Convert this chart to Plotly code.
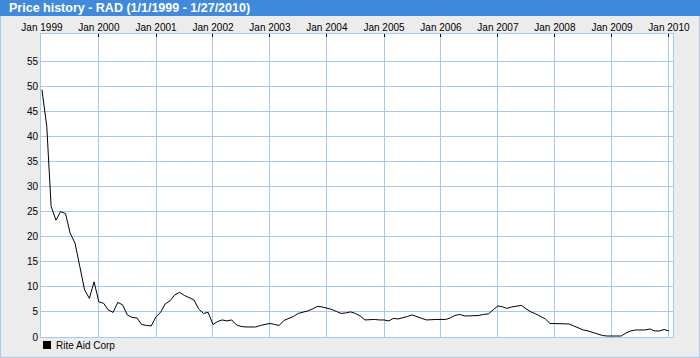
import pandas as pd
import plotly.graph_objects as go

# ---- data (monthly closing prices) ----
series_name = "Rite Aid Corp"
title_text = "Price history - RAD (1/1/1999 - 1/27/2010)"
start_month = "1999-01-01"
prices_1999 = [49.3, 42.0, 26.0, 23.3, 25.0, 24.6, 20.7, 18.7, 14.0, 9.4, 7.7, 11.0]
prices_2000 = [7.0, 6.7, 5.4, 4.9, 6.9, 6.4, 4.4, 3.9, 3.8, 2.5, 2.3, 2.2]
prices_2001 = [4.0, 5.0, 6.6, 7.2, 8.4, 8.9, 8.3, 7.9, 7.4, 5.6, 4.7, 4.9]
prices_2002 = [2.5, 3.1, 3.4, 3.2, 3.4, 2.4, 2.1, 2.0, 2.0, 2.0, 2.3, 2.5]
prices_2003 = [2.7, 2.5, 2.3, 3.3, 3.7, 4.1, 4.7, 4.9, 5.2, 5.6, 6.1, 6.0]
prices_2004 = [5.8, 5.5, 5.1, 4.7, 4.8, 5.0, 4.7, 4.2, 3.4, 3.5, 3.5, 3.4]
prices_2005 = [3.4, 3.2, 3.7, 3.6, 3.8, 4.1, 4.4, 4.0, 3.7, 3.4, 3.5, 3.5]
prices_2006 = [3.5, 3.5, 3.8, 4.3, 4.5, 4.2, 4.2, 4.2, 4.3, 4.5, 4.6, 5.4]
prices_2007 = [6.2, 6.0, 5.7, 6.0, 6.1, 6.3, 5.6, 5.0, 4.6, 4.1, 3.6, 2.7]
prices_2008 = [2.7, 2.6, 2.6, 2.6, 2.2, 1.8, 1.4, 1.2, 0.9, 0.5, 0.3, 0.2]
prices_2009 = [0.2, 0.2, 0.2, 0.8, 1.2, 1.4, 1.4, 1.4, 1.6, 1.2, 1.2, 1.5]
prices_2010 = [1.2]
y_tick_values = [0, 5, 10, 15, 20, 25, 30, 35, 40, 45, 50, 55]

prices = (prices_1999 + prices_2000 + prices_2001 + prices_2002 + prices_2003 +
          prices_2004 + prices_2005 + prices_2006 + prices_2007 + prices_2008 +
          prices_2009 + prices_2010)
dates = pd.date_range(start_month, periods=len(prices), freq="MS")

# ---- style ----
W, H = 700, 358
L, R, T, B = 41, 27, 34, 21
grid = "#A9C8F0"
bar_blue = "#4189DA"
bg = "#ECECEC"
font_family = "Liberation Sans, Arial, sans-serif"

pw, ph = W - L - R, H - T - B


def px_x(p):
    return (p - L) / pw


def px_y(p):
    return (H - B - p) / ph


fig = go.Figure()
fig.add_trace(go.Scatter(
    x=dates, y=prices, mode="lines",
    line=dict(color="black", width=1),
    name=series_name, showlegend=False,
))

fig.update_layout(
    width=W, height=H,
    margin=dict(l=L, r=R, t=T, b=B, pad=0),
    paper_bgcolor=bg, plot_bgcolor="white",
    font=dict(family=font_family, size=9.5, color="black"),
    showlegend=False,
    xaxis=dict(
        type="date", side="top",
        range=["1998-12-26", "2010-01-27"],
        dtick="M12", tick0="1999-01-01", tickformat="%b %Y",
        ticks="inside", ticklen=3, tickwidth=1, tickcolor="black",
        ticklabelstandoff=-2,
        showgrid=True, gridcolor=grid, gridwidth=1,
        showline=True, linecolor=grid, linewidth=1, mirror=True,
        zeroline=False, fixedrange=True, automargin=False,
        tickfont=dict(size=10),
    ),
    yaxis=dict(
        range=[0, 60.4],
        tickvals=y_tick_values,
        ticks="", showgrid=True, gridcolor=grid, gridwidth=1,
        showline=True, linecolor=grid, linewidth=1, mirror=True,
        zeroline=False, fixedrange=True, automargin=False,
        tickfont=dict(size=10),
    ),
)

shapes = [
    # outer border
    dict(type="rect", xref="paper", yref="paper",
         x0=px_x(0.5), x1=px_x(W - 0.5), y0=px_y(H - 0.5), y1=px_y(0.5),
         line=dict(color=grid, width=1), fillcolor="rgba(0,0,0,0)", layer="below"),
    # title bar
    dict(type="rect", xref="paper", yref="paper",
         x0=px_x(0), x1=px_x(W), y0=px_y(16), y1=px_y(0),
         line=dict(width=0), fillcolor=bar_blue, layer="above"),
    # legend swatch
    dict(type="rect", xref="paper", yref="paper",
         x0=px_x(43), x1=px_x(51), y0=px_y(349), y1=px_y(341),
         line=dict(width=0), fillcolor="black"),
]
fig.update_layout(shapes=shapes)

fig.add_annotation(
    text="<b>" + title_text + "</b>", xref="paper", yref="paper",
    x=px_x(7), y=px_y(8), xanchor="left", yanchor="middle",
    showarrow=False, font=dict(family=font_family, size=12.5, color="white"),
)
fig.add_annotation(
    text=series_name, xref="paper", yref="paper",
    x=px_x(54), y=px_y(345), xanchor="left", yanchor="middle",
    showarrow=False, font=dict(family=font_family, size=10, color="black"),
)

fig.write_html(
    "out.html",
    config={"displayModeBar": False},
    post_script="document.body.style.margin='0';document.body.style.padding='0';",
)
